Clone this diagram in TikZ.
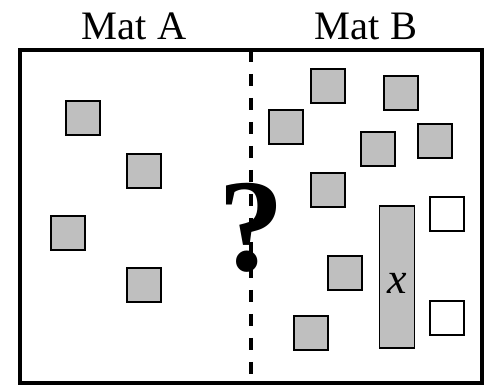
\documentclass[tikz,border=0pt]{standalone}
\usepackage{fontspec}
\setmainfont{Liberation Serif}
\usepackage{tikz}
\usetikzlibrary{positioning}

\tikzset{
  tile/.style={draw,line width=1.1pt,fill=gray!50,minimum size=0.68cm,inner sep=0pt},
  blank/.style={tile,fill=white},
  matlabel/.style={font=\fontsize{23}{23}\selectfont,anchor=base}
}

\begin{document}
\begin{tikzpicture}[x=0.02cm,y=-0.02cm]
\useasboundingbox (0,0) rectangle (490,385);
\coordinate (divtop) at (251,50);
\coordinate (divbot) at (251,383);
\draw[line width=2pt,dash pattern=on 0.25cm off 0.23cm] (divtop) -- (divbot);
\draw[line width=2.4pt] (20,50) rectangle (482,383);
\node[matlabel] (mata) at (134,40) {Mat A};
\node[matlabel] (matb) at (366,40) {Mat B};
\node[tile] (a1) at (83,118) {};
\node[tile] (a2) at (144,171) {};
\node[tile] (a3) at (68,233) {};
\node[tile] (a4) at (144,285) {};
\node[tile] (b1) at (328,86) {};
\node[tile] (b2) at (401,93) {};
\node[tile] (b3) at (286,127) {};
\node[tile] (b4) at (378,149) {};
\node[tile] (b5) at (435,141) {};
\node[tile] (b6) at (328,190) {};
\node[tile] (b7) at (345,273) {};
\node[tile] (b8) at (311,333) {};
\node[blank] (w1) at (447,214) {};
\node[blank] (w2) at (447,318) {};
\node[tile,minimum width=0.7cm,minimum height=2.84cm] (bar) at (397,277) {};
\node[anchor=base,inner sep=0pt,font=\fontsize{25}{25}\selectfont\itshape] (xlab) at (397,293) {x};
\node[anchor=base,inner sep=0pt,font=\fontsize{75}{75}\selectfont\bfseries] (q) at (251,270) {?};
\end{tikzpicture}
\end{document}
